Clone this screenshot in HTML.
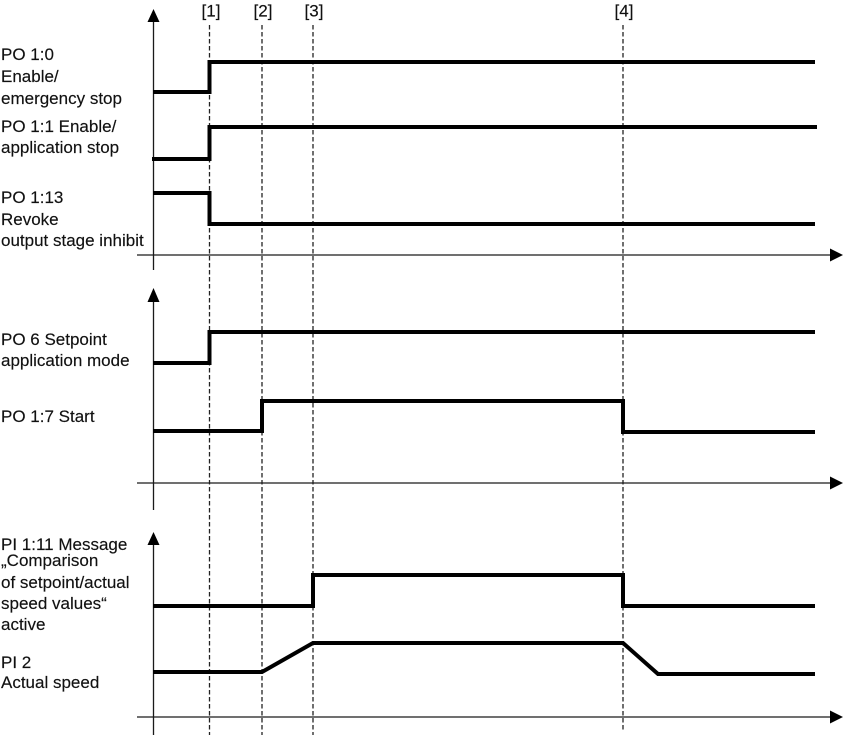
<!DOCTYPE html>
<html>
<head>
<meta charset="utf-8">
<style>
html,body{margin:0;padding:0;background:#fff;}
svg{display:block;}
text{font-family:"Liberation Sans",Arial,sans-serif;font-size:17px;fill:#111;stroke:#111;stroke-width:0.15;}
</style>
</head>
<body>
<svg width="843" height="735" viewBox="0 0 843 735" xmlns="http://www.w3.org/2000/svg">
  <!-- dashed markers -->
  <g stroke="#222" stroke-width="1.3" stroke-dasharray="4.5,2.5" fill="none">
    <line x1="209.5" y1="25" x2="209.5" y2="735"/>
    <line x1="262" y1="25" x2="262" y2="735"/>
    <line x1="313" y1="25" x2="313" y2="735"/>
    <line x1="623" y1="25" x2="623" y2="732"/>
  </g>
  <text x="211" y="16.5" text-anchor="middle">[1]</text>
  <text x="263" y="16.5" text-anchor="middle">[2]</text>
  <text x="314" y="16.5" text-anchor="middle">[3]</text>
  <text x="624" y="16.5" text-anchor="middle">[4]</text>
  <!-- axes -->
  <g stroke="#1a1a1a" stroke-width="1.3" fill="none">
    <line x1="153.5" y1="20" x2="153.5" y2="270"/>
    <line x1="137" y1="255" x2="831" y2="255"/>
    <line x1="153.5" y1="300" x2="153.5" y2="510"/>
    <line x1="137" y1="483" x2="831" y2="483"/>
    <line x1="153.5" y1="543" x2="153.5" y2="735"/>
    <line x1="137" y1="717" x2="831" y2="717"/>
  </g>
  <g fill="#000">
    <polygon points="153.5,9 147.5,22 159.5,22"/>
    <polygon points="153.5,288 147.5,302 159.5,302"/>
    <polygon points="153.5,532 147.5,545 159.5,545"/>
    <polygon points="843,255 830,248.5 830,261.5"/>
    <polygon points="843,483 830,476.5 830,489.5"/>
    <polygon points="843,717 830,710.5 830,723.5"/>
  </g>
  <!-- signals -->
  <g stroke="#000" stroke-width="4" fill="none" stroke-linejoin="miter">
    <path d="M153,92 H209.5 V62 H815"/>
    <path d="M152,159 H209.5 V127 H817"/>
    <path d="M153,193 H209.5 V224 H815"/>
    <path d="M153,363 H209.5 V332 H815"/>
    <path d="M153,431 H262 V401 H623 V432 H815"/>
    <path d="M153,606 H313 V575 H623 V606 H815"/>
    <path d="M153,672 H262 L313,643 H623 L658,674 H815"/>
  </g>
  <!-- labels -->
  <text x="1" y="60">PO 1:0</text>
  <text x="1" y="82">Enable/</text>
  <text x="1" y="104">emergency stop</text>
  <text x="1" y="132">PO 1:1 Enable/</text>
  <text x="1" y="153">application stop</text>
  <text x="1" y="203">PO 1:13</text>
  <text x="1" y="225">Revoke</text>
  <text x="1" y="246">output stage inhibit</text>
  <text x="1" y="345">PO 6 Setpoint</text>
  <text x="1" y="366">application mode</text>
  <text x="1" y="422">PO 1:7 Start</text>
  <text x="1" y="550">PI 1:11 Message</text>
  <text x="1" y="566">„Comparison</text>
  <text x="1" y="588">of setpoint/actual</text>
  <text x="1" y="609">speed values“</text>
  <text x="1" y="630">active</text>
  <text x="1" y="668">PI 2</text>
  <text x="1" y="688">Actual speed</text>
</svg>
</body>
</html>
